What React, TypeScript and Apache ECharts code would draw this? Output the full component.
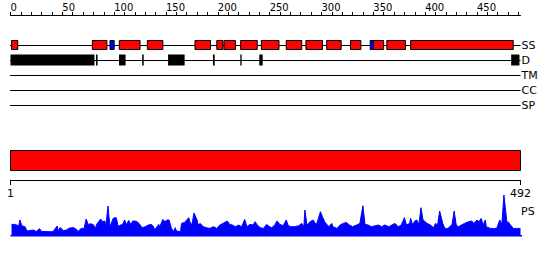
import React, { useEffect, useRef } from "react";
import * as echarts from "echarts";

// ---- data ----
const SEQ_LENGTH = 492;
const TRACKS = ["SS", "D", "TM", "CC", "SP"];
const TOP_TICK_LABELS = [0, 50, 100, 150, 200, 250, 300, 350, 400, 450];
const TOP_TICKS = [0, 10, 20, 30, 40, 50, 60, 70, 80, 90, 100, 110, 120, 130, 140, 150, 160, 170, 180, 190, 200, 210, 220, 230, 240, 250, 260, 270, 280, 290, 300, 310, 320, 330, 340, 350, 360, 370, 380, 390, 400, 410, 420, 430, 440, 450, 460, 470, 480, 490];
const BOTTOM_TICKS = [1, 492];

// secondary structure: helix (red) and strand (blue) ranges
const SS_HELIX = [[1, 7], [79, 93], [105, 125], [132, 147], [178, 193], [199, 205], [206, 217], [222, 238], [242, 259], [266, 281], [285, 301], [305, 319], [328, 338], [350, 360], [363, 381], [386, 485]];
const SS_STRAND = [[96, 100], [347, 350]];
// disordered regions
const DISORDER = [[0, 81], [82.5, 84], [104.7, 111], [127, 128.5], [152, 168], [195.3, 197], [221.7, 223], [240, 243.3], [483, 491]];
// full-length domain bar
const DOMAINS = [[1, 492]];

// PS profile
const PS_RESIDUE = [1, 4, 8, 9, 11, 14, 16, 22, 25, 28, 30, 37, 41, 45, 46, 48, 51, 54, 56, 59, 61, 64, 65, 68, 71, 73, 75, 77, 80, 82, 83, 85, 87, 89, 91, 92, 94, 96, 99, 101, 102, 104, 106, 108, 110, 112, 114, 116, 118, 120, 122, 124, 127, 130, 133, 136, 138, 139, 143, 144, 147, 149, 151, 153, 155, 157, 159, 160, 164, 165, 168, 172, 173, 175, 177, 180, 181, 183, 186, 189, 192, 196, 199, 202, 205, 209, 212, 213, 217, 220, 223, 226, 228, 231, 234, 236, 238, 241, 244, 247, 250, 252, 255, 257, 260, 263, 266, 268, 271, 274, 278, 281, 283, 284, 286, 289, 292, 295, 297, 299, 301, 303, 307, 310, 311, 315, 318, 321, 324, 327, 330, 334, 337, 340, 342, 345, 348, 352, 355, 358, 361, 365, 368, 371, 374, 377, 380, 382, 385, 386, 388, 390, 392, 394, 396, 398, 400, 402, 405, 408, 410, 412, 414, 417, 419, 422, 426, 428, 430, 432, 435, 438, 442, 445, 447, 450, 452, 454, 456, 458, 459, 463, 466, 469, 472, 474, 476, 479, 480, 482, 485, 488, 492];
const PS_SCORE = [11.3, 11.3, 10, 15.7, 10, 9, 4.7, 5.7, 4.3, 7, 4.3, 4, 4, 9.7, 5, 8.3, 5, 5.7, 7.3, 8, 8, 6, 4, 7.3, 7.3, 16.7, 11, 12, 11, 7.3, 11.3, 14, 16.7, 14, 14.7, 9, 29.7, 9, 17.3, 18, 18, 9, 10.7, 11, 15.7, 11, 15.3, 11.3, 14.7, 14.7, 14, 12.3, 8, 9, 10.7, 11.3, 9, 5.7, 11.3, 9, 16.3, 14, 15.7, 15.7, 8.3, 4, 8, 4.7, 4, 12.3, 13.3, 18, 14, 10.7, 22.7, 15.7, 10.7, 12.3, 9, 8, 7.3, 9, 7.3, 10.7, 12.3, 14.7, 10.7, 11.3, 9, 10.7, 9, 16.3, 9, 11.3, 10.7, 14, 10.7, 8, 7.3, 11.3, 9, 8, 10.7, 14.7, 11.3, 10, 15.7, 10, 9, 9, 10, 12.3, 9, 25.7, 10.7, 14, 15.7, 10.7, 17.3, 24, 19, 14, 9, 12.3, 9, 7.3, 10.7, 12.3, 13.3, 10.7, 9, 10.7, 12.3, 30, 11.3, 10.7, 9, 10, 10.7, 9, 10.7, 9, 10.7, 12.3, 9, 10.7, 18, 10.7, 12.3, 17.3, 10.7, 14.7, 15.7, 11.3, 28, 15.7, 14, 12.3, 10.7, 8, 12.3, 10.7, 24.7, 12.3, 7.3, 7.3, 11.3, 24.7, 10.7, 9, 10.7, 12.3, 14, 14.7, 12.3, 15.7, 14, 17.3, 10.7, 15.7, 9, 7.3, 7.3, 7.3, 15.7, 11.3, 40.7, 12.3, 14, 11.3, 7.3, 7.3, 7.3];
const PS_BASELINE_END = 497.5;

const FONT = "DejaVu Sans";
const RED = "#ff0000";
const BLUE = "#0000ff";
const BLACK = "#000000";

export default function App() {
  const ref = useRef<HTMLDivElement>(null);

  useEffect(() => {
    if (!ref.current) return;
    const chart = echarts.init(ref.current, null, { renderer: "svg" });

    const featureData: any[] = [];
    SS_HELIX.forEach(([s, e]) => featureData.push([s, e, 0, 0]));
    SS_STRAND.forEach(([s, e]) => featureData.push([s, e, 0, 1]));
    DISORDER.forEach(([s, e]) => featureData.push([s, e, 1, 2]));

    const psData = PS_RESIDUE.map((r, i) => [r, PS_SCORE[i]]);

    const gridBase = { left: 10.5, width: 510 };

    const option: any = {
      animation: false,
      backgroundColor: "#ffffff",
      textStyle: { fontFamily: FONT },
      grid: [
        { ...gridBase, top: 45, height: 60 },
        { ...gridBase, top: 150, height: 30 },
        { ...gridBase, top: 194.7, height: 41 },
      ],
      xAxis: [
        {
          gridIndex: 0,
          type: "value",
          min: 0,
          max: SEQ_LENGTH,
          position: "top",
          offset: 30,
          axisLine: { show: true, lineStyle: { color: BLACK, width: 1 } },
          axisTick: { show: true, customValues: TOP_TICKS, length: 3, inside: false, lineStyle: { color: BLACK } },
          axisLabel: { customValues: TOP_TICK_LABELS, align: "left", margin: 3, fontSize: 10, color: BLACK, fontFamily: FONT },
          splitLine: { show: false },
        },
        {
          gridIndex: 1,
          type: "value",
          min: 1,
          max: SEQ_LENGTH,
          position: "bottom",
          axisLine: { show: true, lineStyle: { color: BLACK, width: 1 } },
          axisTick: { show: true, customValues: BOTTOM_TICKS, length: 5, lineStyle: { color: BLACK } },
          axisLabel: { customValues: BOTTOM_TICKS, margin: 8, fontSize: 11, color: BLACK, fontFamily: FONT },
          splitLine: { show: false },
        },
        { gridIndex: 2, type: "value", min: 0, max: SEQ_LENGTH, show: false },
      ],
      yAxis: [
        {
          gridIndex: 0,
          type: "category",
          data: TRACKS,
          inverse: true,
          boundaryGap: false,
          position: "right",
          axisLine: { show: false },
          axisTick: { show: false },
          splitLine: { show: false },
          axisLabel: { margin: 1, fontSize: 11, color: BLACK, fontFamily: FONT, align: "left" },
        },
        { gridIndex: 1, type: "value", min: 0, max: 1, show: false },
        { gridIndex: 2, type: "value", min: 0, max: 41, show: false },
      ],
      graphic: [
        { type: "text", left: 521, top: 206, style: { text: "PS", fontSize: 11, fontFamily: FONT, fill: BLACK } },
      ],
      series: [
        {
          type: "custom",
          name: "tracks",
          xAxisIndex: 0,
          yAxisIndex: 0,
          data: TRACKS.map((_, i) => [0, i]),
          encode: { x: 0, y: 1 },
          renderItem: (params: any, api: any) => {
            const cs = params.coordSys;
            const y = Math.round(api.coord([0, api.value(1)])[1]) + 0.5;
            return {
              type: "line",
              shape: { x1: cs.x - 0.5, y1: y, x2: cs.x + cs.width, y2: y },
              style: { stroke: BLACK, lineWidth: 1 },
            };
          },
        },
        {
          type: "custom",
          name: "features",
          xAxisIndex: 0,
          yAxisIndex: 0,
          data: featureData,
          encode: { x: [0, 1], y: 2 },
          renderItem: (params: any, api: any) => {
            const s = api.coord([api.value(0), api.value(2)]);
            const e = api.coord([api.value(1), api.value(2)]);
            const kind = api.value(3);
            const cy = Math.round(s[1]);
            if (kind === 2) {
              return {
                type: "rect",
                shape: { x: s[0], y: cy - 5.5, width: Math.max(1.2, e[0] - s[0]), height: 11 },
                style: { fill: BLACK },
              };
            }
            return {
              type: "rect",
              shape: { x: s[0], y: cy - 4.5, width: e[0] - s[0], height: 9 },
              style: { fill: kind === 1 ? BLUE : RED, stroke: BLACK, lineWidth: 1 },
            };
          },
        },
        {
          type: "custom",
          name: "domain",
          xAxisIndex: 1,
          yAxisIndex: 1,
          data: DOMAINS,
          encode: { x: [0, 1] },
          renderItem: (params: any, api: any) => {
            const cs = params.coordSys;
            const s = api.coord([api.value(0), 0]);
            const e = api.coord([api.value(1), 0]);
            return {
              type: "rect",
              shape: { x: s[0], y: cs.y + 0.5, width: e[0] - s[0], height: 20 },
              style: { fill: RED, stroke: BLACK, lineWidth: 1 },
            };
          },
        },
        {
          type: "line",
          name: "PS",
          xAxisIndex: 2,
          yAxisIndex: 2,
          data: psData,
          symbol: "none",
          lineStyle: { color: BLUE, width: 1 },
          areaStyle: { color: BLUE, opacity: 1 },
        },
        {
          type: "line",
          name: "PS baseline",
          xAxisIndex: 2,
          yAxisIndex: 2,
          data: [[0, 0], [PS_BASELINE_END, 0]],
          clip: false,
          symbol: "none",
          lineStyle: { color: BLUE, width: 1.5 },
        },
      ],
    };

    chart.setOption(option);
    return () => chart.dispose();
  }, []);

  return (
    <div
      ref={ref}
      style={{ position: "fixed", left: 0, top: 0, width: 550, height: 260, background: "#fff" }}
    />
  );
}
